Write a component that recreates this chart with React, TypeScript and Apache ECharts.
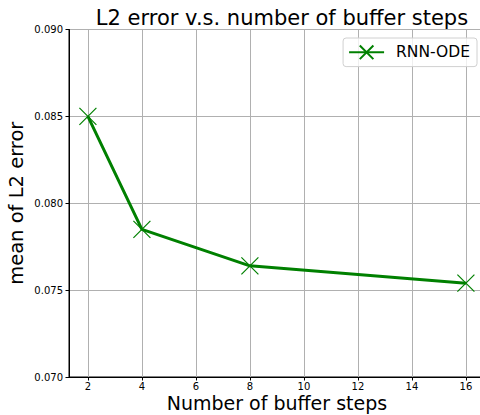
import React, { useEffect, useRef } from "react";
import * as echarts from "echarts";

const bufferSteps = [2, 4, 8, 16];
const meanL2Error = [0.085, 0.0785, 0.0764, 0.0754];
const xTicks = [2, 4, 6, 8, 10, 12, 14, 16];
const seriesName = "RNN-ODE";

const FONT = "DejaVu Sans";

export default function App() {
  const ref = useRef<HTMLDivElement>(null);
  useEffect(() => {
    document.body.style.margin = "0";
    const chart = echarts.init(ref.current!, null, { renderer: "svg" });
    chart.setOption({
      animation: false,
      backgroundColor: "#fff",
      textStyle: { fontFamily: FONT },
      title: {
        text: "L2 error v.s. number of buffer steps",
        left: 277,
        textAlign: "center",
        top: 2,
        textStyle: { fontFamily: FONT, fontSize: 21, fontWeight: "normal", color: "#000" },
      },
      grid: {
        left: 69,
        top: 29.5,
        right: -4.8,
        bottom: 38,
        outerBoundsMode: "none",
        containLabel: false,
        show: true,
        borderColor: "#000",
        borderWidth: 1,
        backgroundColor: "transparent",
      },
      legend: {
        right: 3,
        top: 38,
        padding: [5, 7, 5, 5],
        itemWidth: 35,
        itemHeight: 17,
        itemGap: 10,
        borderColor: "#d0d0d0",
        borderWidth: 1,
        borderRadius: 3,
        backgroundColor: "rgba(255,255,255,0.8)",
        textStyle: { fontFamily: FONT, fontSize: 15.5, color: "#000", padding: [0, 0, 0, 7] },
        data: [seriesName],
      },
      xAxis: {
        type: "value",
        min: 1.3,
        max: 16.7,
        name: "Number of buffer steps",
        nameLocation: "middle",
        nameGap: 16.5,
        nameMoveOverlap: false,
        nameTextStyle: { fontFamily: FONT, fontSize: 19, color: "#000" },
        axisLine: { show: true, lineStyle: { color: "#000", width: 1 } },
        axisTick: { show: true, length: 3.5, lineStyle: { color: "#000" }, customValues: xTicks },
        axisLabel: {
          customValues: xTicks,
          fontFamily: FONT,
          fontSize: 10,
          color: "#000",
          margin: 4.5,
        },
        splitLine: { show: true, lineStyle: { color: "#b0b0b0", width: 1 } },
      },
      yAxis: {
        type: "value",
        min: 0.07,
        max: 0.09,
        interval: 0.005,
        name: "mean of L2 error",
        nameLocation: "middle",
        nameGap: 43,
        nameMoveOverlap: false,
        nameTextStyle: { fontFamily: FONT, fontSize: 19.5, color: "#000" },
        axisLine: { show: true, lineStyle: { color: "#000", width: 1 } },
        axisTick: { show: true, length: 3.5, lineStyle: { color: "#000" } },
        axisLabel: {
          fontFamily: FONT,
          fontSize: 10,
          color: "#000",
          margin: 6,
          formatter: (v: number) => v.toFixed(3),
        },
        splitLine: { show: true, lineStyle: { color: "#b0b0b0", width: 1 } },
      },
      series: [
        {
          name: seriesName,
          type: "line",
          data: bufferSteps.map((x, i) => [x, meanL2Error[i]]),
          lineStyle: { color: "#008000", width: 3 },
          symbol: "path://M0,0L10,10M10,0L0,10",
          symbolSize: 17,
          showAllSymbol: true,
          itemStyle: { color: "none", borderColor: "#008000", borderWidth: 1.2 },
          emphasis: { disabled: true },
        },
      ],
    });
    return () => chart.dispose();
  }, []);
  return <div ref={ref} style={{ position: "fixed", left: 0, top: 0, width: 480, height: 415 }} />;
}
